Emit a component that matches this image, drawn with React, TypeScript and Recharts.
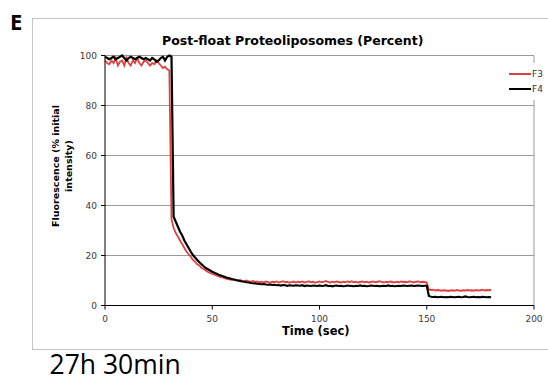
import React from "react";
import { LineChart, Line, XAxis, YAxis, CartesianGrid, ReferenceLine } from "recharts";

const timeSec: number[] = [
  0, 1, 2, 3, 4, 5, 6, 7, 8, 9,
  10, 11, 12, 13, 14, 15, 16, 17, 18, 19,
  20, 21, 22, 23, 24, 25, 26, 27, 28, 29,
  30, 31, 32, 33, 34, 35, 36, 37, 38, 39,
  40, 41, 42, 43, 44, 45, 46, 47, 48, 49,
  50, 51, 52, 53, 54, 55, 56, 57, 58, 59,
  60, 61, 62, 63, 64, 65, 66, 67, 68, 69,
  70, 71, 72, 73, 74, 75, 76, 77, 78, 79,
  80, 81, 82, 83, 84, 85, 86, 87, 88, 89,
  90, 91, 92, 93, 94, 95, 96, 97, 98, 99,
  100, 101, 102, 103, 104, 105, 106, 107, 108, 109,
  110, 111, 112, 113, 114, 115, 116, 117, 118, 119,
  120, 121, 122, 123, 124, 125, 126, 127, 128, 129,
  130, 131, 132, 133, 134, 135, 136, 137, 138, 139,
  140, 141, 142, 143, 144, 145, 146, 147, 148, 149,
  150, 151, 152, 153, 154, 155, 156, 157, 158, 159,
  160, 161, 162, 163, 164, 165, 166, 167, 168, 169,
  170, 171, 172, 173, 174, 175, 176, 177, 178, 179,
  180,
];

const f3: number[] = [
  98, 97, 96.5, 98, 97, 99, 96, 97.5, 98, 96,
  99, 97, 96, 98, 97, 99, 97, 96, 97.5, 98,
  97, 96, 97, 96.5, 98, 97, 96, 95, 95.5, 94.5,
  94, 34.5, 31, 29, 27.5, 26, 24.5, 23, 21.5, 20.5,
  19.5, 18.2, 17.5, 16.5, 16, 15, 14.6, 14, 13.4, 13,
  12.6, 12.3, 12, 11.6, 11.4, 11.1, 10.9, 10.6, 10.5, 10.3,
  10.4, 10.1, 9.9, 10.2, 9.8, 9.7, 10, 9.6, 9.5, 9.8,
  9.4, 9.6, 9.3, 9.5, 9.2, 9.6, 9.4, 9.1, 9.5, 9.3,
  9.6, 9.2, 9.4, 9.7, 9.3, 9.5, 9.1, 9.4, 9.6, 9.2,
  9.5, 9.3, 9.6, 9.2, 9.4, 9.7, 9.3, 9.5, 9.1, 9.4,
  9.6, 9.3, 9.5, 9.8, 9.4, 9.2, 9.5, 9.3, 9.6, 9.4,
  9.2, 9.5, 9.3, 9.6, 9.4, 9.7, 9.3, 9.5, 9.2, 9.4,
  9.6, 9.3, 9.5, 9.2, 9.4, 9.6, 9.3, 9.5, 9.7, 9.4,
  9.2, 9.5, 9.3, 9.6, 9.4, 9.2, 9.5, 9.3, 9.6, 9.4,
  9.5, 9.3, 9.7, 9.4, 9.2, 9.5, 9.6, 9.3, 9.5, 9.4,
  9.2, 6.4, 6.2, 6.3, 6.0, 6.2, 6.1, 5.9, 6.1, 6.0,
  5.8, 6.0, 6.1, 5.9, 6.2, 6.0, 5.9, 6.1, 6.0, 6.2,
  6.0, 6.1, 5.9, 6.2, 6.0, 6.1, 6.3, 6.0, 6.2, 6.1,
  6.2,
];

const f4: number[] = [
  99.5, 99, 98.5, 99, 99.5, 98.5, 99, 99.5, 100, 99,
  98, 99, 99.5, 99, 98.5, 99, 99.5, 99, 98.5, 99,
  98.5, 98, 99, 98.5, 97.5, 98, 99, 99.5, 98, 99.5,
  100, 99.5, 35.5, 33.5, 31.5, 29.5, 28, 26, 24.5, 23,
  21.5, 20.2, 19.2, 18.2, 17.3, 16.5, 15.7, 15, 14.5, 14,
  13.5, 13.1, 12.7, 12.3, 12, 11.7, 11.4, 11.1, 10.9, 10.6,
  10.4, 10.2, 10, 9.8, 9.6, 9.5, 9.3, 9.2, 9.0, 8.9,
  8.8, 8.7, 8.6, 8.5, 8.6, 8.4, 8.3, 8.4, 8.2, 8.3,
  8.1, 8.2, 8.0, 8.2, 8.1, 7.9, 8.1, 8.0, 7.9, 8.1,
  8.0, 7.9, 8.1, 7.8, 8.0, 7.9, 7.8, 8.0, 7.9, 7.8,
  8.0, 7.8, 7.9, 8.1, 7.8, 7.9, 7.7, 7.9, 8.0, 7.8,
  7.9, 7.7, 7.8, 8.0, 7.9, 7.8, 7.7, 7.9, 7.8, 8.0,
  7.8, 7.9, 7.7, 7.8, 8.0, 7.9, 7.8, 7.9, 7.7, 7.8,
  7.9, 7.8, 8.0, 7.8, 7.9, 7.7, 7.8, 7.9, 7.8, 8.0,
  7.9, 7.8, 7.9, 8.0, 7.8, 7.9, 8.0, 7.9, 7.8, 7.9,
  7.9, 3.8, 3.5, 3.4, 3.5, 3.3, 3.4, 3.5, 3.3, 3.4,
  3.3, 3.5, 3.4, 3.3, 3.4, 3.5, 3.3, 3.4, 3.6, 3.4,
  3.3, 3.4, 3.5, 3.3, 3.4, 3.3, 3.5, 3.4, 3.3, 3.4,
  3.3,
];

const xTicks = [0, 50, 100, 150, 200];
const yTicks = [0, 20, 40, 60, 80, 100];

const seriesNames = { f3: "F3", f4: "F4" };
const RED = "#e2403e";
const BLACK = "#000000";

const data = timeSec.map((t, i) => ({ t, f3: f3[i], f4: f4[i] }));

const tickStyle = { fontFamily: "DejaVu Sans", fontSize: 9, fill: "#3a3a3a" };

const legendItems = [
  { name: seriesNames.f3, color: RED, w: 2 },
  { name: seriesNames.f4, color: BLACK, w: 2.4 },
];

export default function App() {
  return (
    <div style={{ position: "absolute", left: 0, top: 0, width: 548, height: 381, overflow: "hidden", background: "#fff" }}>
      <div style={{ position: "absolute", left: 32, top: 18, width: 600, height: 330, border: "1px solid #c4c4c4" }} />
      <div style={{ position: "absolute", left: 10, top: 9.8, fontFamily: "Open Sans", fontWeight: 700, fontSize: 22, lineHeight: 1 }}>E</div>
      <div style={{ position: "absolute", left: 49.5, top: 350.5, fontFamily: "Open Sans", fontSize: 26.5, lineHeight: 1, whiteSpace: "nowrap" }}>27h 30min</div>
      <div style={{ position: "absolute", left: 162, top: 35.4, fontFamily: "DejaVu Sans", fontWeight: 700, fontSize: 12.5, lineHeight: 1, whiteSpace: "nowrap" }}>
        Post-float Proteoliposomes (Percent)
      </div>
      <div style={{ position: "absolute", left: 0, top: 0 }}>
        <LineChart width={548} height={381} data={data} margin={{ top: 55.5, right: 14, bottom: 45.5, left: 45 }}>
          <CartesianGrid vertical={false} stroke="#9a9a9a" />
          <ReferenceLine x={200} stroke="#9a9a9a" />
          <XAxis
            dataKey="t"
            type="number"
            domain={[0, 200]}
            ticks={xTicks}
            height={30}
            tickSize={4}
            tickMargin={6}
            stroke="#000"
            tick={tickStyle}
            interval={0}
          />
          <YAxis
            type="number"
            domain={[0, 100]}
            ticks={yTicks}
            width={60}
            tickSize={4}
            tickMargin={4}
            stroke="#000"
            tick={tickStyle}
            interval={0}
          />
          <Line type="linear" dataKey="f3" name={seriesNames.f3} stroke={RED} strokeWidth={1.8} dot={false} isAnimationActive={false} />
          <Line type="linear" dataKey="f4" name={seriesNames.f4} stroke={BLACK} strokeWidth={2.2} dot={false} isAnimationActive={false} />
        </LineChart>
      </div>
      <div style={{ position: "absolute", left: 505, top: 63, width: 43, background: "#fff", padding: "3px 0 3px 4px", fontFamily: "DejaVu Sans", fontSize: 9, color: "#333" }}>
        {legendItems.map((it) => (
          <div key={it.name} style={{ display: "flex", alignItems: "center", height: 15.5 }}>
            <span style={{ display: "inline-block", width: 22, height: it.w, background: it.color, marginRight: 1 }} />
            <span>{it.name}</span>
          </div>
        ))}
      </div>
      <div
        style={{
          position: "absolute",
          left: 61.5 - 100,
          top: 166 - 13,
          width: 200,
          height: 26,
          transform: "rotate(-90deg)",
          transformOrigin: "center",
          textAlign: "center",
          fontFamily: "DejaVu Sans",
          fontWeight: 700,
          fontSize: 9.5,
          lineHeight: "13px",
          whiteSpace: "nowrap",
        }}
      >
        Fluorescence (% initial
        <br />
        intensity)
      </div>
      <div style={{ position: "absolute", left: 282, top: 326, fontFamily: "DejaVu Sans", fontWeight: 700, fontSize: 11.5, lineHeight: 1, whiteSpace: "nowrap" }}>
        Time (sec)
      </div>
    </div>
  );
}
